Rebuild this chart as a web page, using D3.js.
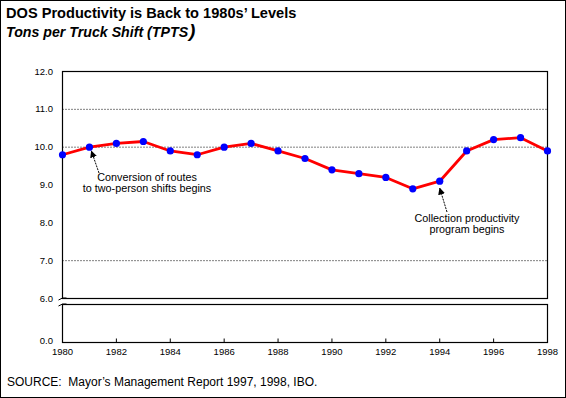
<!DOCTYPE html>
<html>
<head>
<meta charset="utf-8">
<script src="https://cdn.jsdelivr.net/npm/d3@7"></script>
<style>
  html, body { margin: 0; padding: 0; background: #fff; }
  svg { display: block; font-family: "Liberation Sans", Arial, sans-serif; }
</style>
</head>
<body>
<div id="chart"></div>
<script>
// Tons per truck shift by fiscal year
const years = [1980, 1981, 1982, 1983, 1984, 1985, 1986, 1987, 1988, 1989,
  1990, 1991, 1992, 1993, 1994, 1995, 1996, 1997, 1998];
const tpts = [9.8, 10.0, 10.1, 10.15, 9.9, 9.8, 10.0, 10.1, 9.9, 9.7,
  9.4, 9.3, 9.2, 8.9, 9.1, 9.9, 10.2, 10.25, 9.9];

const xTicks = [1980, 1982, 1984, 1986, 1988, 1990, 1992, 1994, 1996, 1998];
const yTicks = [6, 7, 8, 9, 10, 11, 12];
const gridValues = [7, 10, 11];

const notes = [
  { year: 1981, lines: ['Conversion of routes', 'to two-person shifts begins'] },
  { year: 1994, lines: ['Collection productivity', 'program begins'] }
];

const width = 566;
const height = 398;

const svg = d3.select('#chart')
  .append('svg')
  .attr('width', width)
  .attr('height', height);

// outer frame
svg.append('rect')
  .attr('x', 0.5).attr('y', 0.5)
  .attr('width', width - 1).attr('height', height - 1)
  .attr('fill', 'none').attr('stroke', '#000');

// titles
svg.append('text')
  .attr('x', 6).attr('y', 18)
  .attr('font-size', '14.6px').attr('font-weight', 'bold')
  .text('DOS Productivity is Back to 1980s\u2019 Levels');

const sub = svg.append('text')
  .attr('x', 6).attr('y', 37)
  .attr('font-size', '14.2px').attr('font-weight', 'bold').attr('font-style', 'italic');
sub.append('tspan').text('Tons per Truck Shift (TPTS');
sub.append('tspan').attr('font-size', '19px').attr('dx', 1).text(')');

// scales
const x = d3.scaleLinear().domain([1980, 1998]).range([62.5, 547.5]);
const y = d3.scaleLinear().domain([6, 12]).range([298.5, 71.5]);
const yLow = d3.scaleLinear().domain([0, 1]).range([342.5, 304.5]);

// upper panel
svg.append('rect')
  .attr('x', x(1980)).attr('y', y(12))
  .attr('width', x(1998) - x(1980)).attr('height', y(6) - y(12))
  .attr('fill', 'none').attr('stroke', '#000').attr('stroke-width', 1.2);

// lower panel
svg.append('rect')
  .attr('x', x(1980)).attr('y', yLow(1))
  .attr('width', x(1998) - x(1980)).attr('height', yLow(0) - yLow(1))
  .attr('fill', 'none').attr('stroke', '#000').attr('stroke-width', 1.2);

// gridlines
svg.append('g')
  .selectAll('line')
  .data(gridValues)
  .enter().append('line')
  .attr('x1', x(1980)).attr('x2', x(1998))
  .attr('y1', d => y(d)).attr('y2', d => y(d))
  .attr('stroke', '#000').attr('stroke-width', 1)
  .attr('stroke-dasharray', '1,2');

// y labels
svg.append('g')
  .selectAll('text')
  .data(yTicks)
  .enter().append('text')
  .attr('x', 53).attr('y', d => y(d) + 3)
  .attr('text-anchor', 'end').attr('font-size', '9.5px')
  .text(d => d3.format('.1f')(d));

svg.append('text')
  .attr('x', 53).attr('y', yLow(0) + 1)
  .attr('text-anchor', 'end').attr('font-size', '9.5px')
  .text('0.0');

// axis break marks
[y(6), yLow(1)].forEach(v => {
  svg.append('path')
    .attr('d', `M${x(1980) - 4},${v + 1.5} Q${x(1980)},${v - 1.5} ${x(1980) + 4},${v - 0.5}`)
    .attr('fill', 'none').attr('stroke', '#000');
});
svg.append('rect')
  .attr('x', x(1980) - 1).attr('y', y(6) + 2)
  .attr('width', 2).attr('height', yLow(1) - y(6) - 4)
  .attr('fill', '#fff');

// x ticks and labels
const xg = svg.append('g');
xg.selectAll('line')
  .data(xTicks)
  .enter().append('line')
  .attr('x1', d => x(d)).attr('x2', d => x(d))
  .attr('y1', yLow(0)).attr('y2', yLow(0) - 4)
  .attr('stroke', '#000');
xg.selectAll('text')
  .data(xTicks)
  .enter().append('text')
  .attr('x', d => x(d)).attr('y', yLow(0) + 12)
  .attr('text-anchor', 'middle').attr('font-size', '9.5px')
  .text(d => d);

// data line
const line = d3.line()
  .x((d, i) => x(years[i]))
  .y(d => y(d));

svg.append('path')
  .datum(tpts)
  .attr('d', line)
  .attr('fill', 'none')
  .attr('stroke', '#ff0000')
  .attr('stroke-width', 2.8)
  .attr('stroke-linejoin', 'round');

svg.append('g')
  .selectAll('circle')
  .data(tpts)
  .enter().append('circle')
  .attr('cx', (d, i) => x(years[i]))
  .attr('cy', d => y(d))
  .attr('r', 3.6)
  .attr('fill', '#0000ff');

// annotations
svg.append('defs').append('marker')
  .attr('id', 'arrow')
  .attr('viewBox', '0 -5 10 10')
  .attr('refX', 9).attr('refY', 0)
  .attr('markerWidth', 7).attr('markerHeight', 7)
  .attr('markerUnits', 'userSpaceOnUse')
  .attr('orient', 'auto')
  .append('path')
  .attr('d', 'M0,-5L10,0L0,5Z')
  .attr('fill', '#000');

const noteLayout = [
  { tx: 147, ty: 181, ax: 99, ay: 173, dx: 2, dy: 4 },
  { tx: 467, ty: 222, ax: 447, ay: 212, dx: 0, dy: 7 }
];

notes.forEach((n, k) => {
  const L = noteLayout[k];
  const px = x(n.year);
  const py = y(tpts[years.indexOf(n.year)]);
  svg.append('line')
    .attr('x1', L.ax).attr('y1', L.ay)
    .attr('x2', px + L.dx).attr('y2', py + L.dy)
    .attr('stroke', '#000').attr('stroke-width', 1)
    .attr('stroke-dasharray', '2,1')
    .attr('marker-end', 'url(#arrow)');
  const t = svg.append('text')
    .attr('text-anchor', 'middle').attr('font-size', '10.8px');
  n.lines.forEach((s, j) => {
    t.append('tspan').attr('x', L.tx).attr('y', L.ty + j * 11).text(s);
  });
});

// source
svg.append('text')
  .attr('x', 7).attr('y', 386)
  .attr('font-size', '12px')
  .attr('xml:space', 'preserve')
  .text('SOURCE:  Mayor\u2019s Management Report 1997, 1998, IBO.');
</script>
</body>
</html>
